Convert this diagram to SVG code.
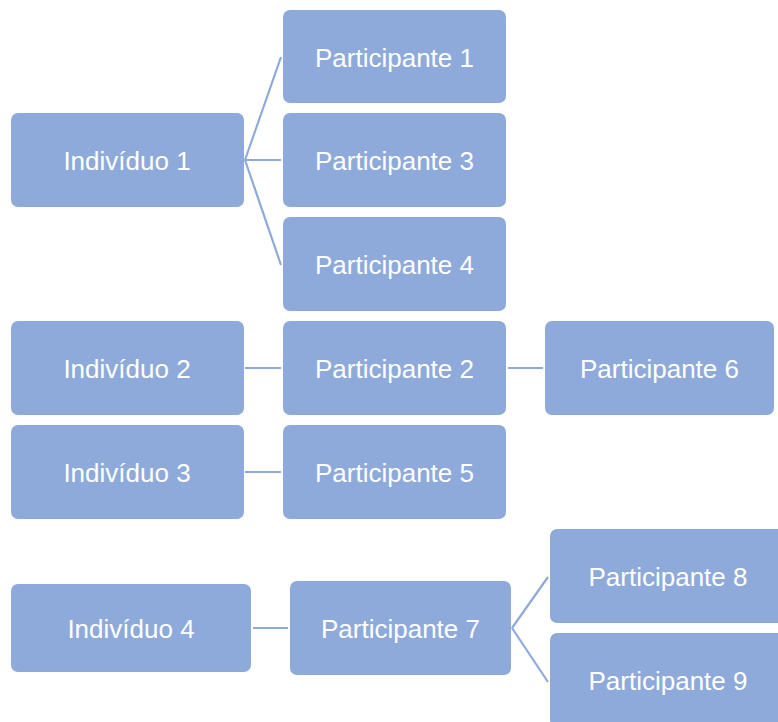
<svg xmlns="http://www.w3.org/2000/svg" width="778" height="722" viewBox="0 0 778 722">
<style>
.box{fill:#8EAADB;}
.lbl{fill:#ffffff;font-family:"Liberation Sans",Arial,sans-serif;font-size:26px;text-anchor:middle;}
.con{stroke:#8EAADB;stroke-width:2.2;fill:none;}
</style>
<rect width="778" height="722" fill="#ffffff"/>
<g id="connectors">
<line class="con" x1="245" y1="160" x2="281" y2="57"/>
<line class="con" x1="245" y1="160" x2="281" y2="160"/>
<line class="con" x1="245" y1="160" x2="281" y2="265"/>
<line class="con" x1="245" y1="368" x2="281" y2="368"/>
<line class="con" x1="508" y1="368" x2="543" y2="368"/>
<line class="con" x1="245" y1="472" x2="281" y2="472"/>
<line class="con" x1="253" y1="628" x2="288" y2="628"/>
<line class="con" x1="512" y1="628" x2="548" y2="577"/>
<line class="con" x1="512" y1="628" x2="548" y2="682"/>
</g>
<g id="ind1"><rect class="box" x="11" y="113" width="233" height="94" rx="7"/><text class="lbl" x="127" y="170">Indivíduo 1</text></g>
<g id="p1"><rect class="box" x="283" y="10" width="223" height="93" rx="7"/><text class="lbl" x="394.5" y="67">Participante 1</text></g>
<g id="p3"><rect class="box" x="283" y="113" width="223" height="94" rx="7"/><text class="lbl" x="394.5" y="170">Participante 3</text></g>
<g id="p4"><rect class="box" x="283" y="217" width="223" height="94" rx="7"/><text class="lbl" x="394.5" y="274">Participante 4</text></g>
<g id="ind2"><rect class="box" x="11" y="321" width="233" height="94" rx="7"/><text class="lbl" x="127" y="378">Indivíduo 2</text></g>
<g id="p2"><rect class="box" x="283" y="321" width="223" height="94" rx="7"/><text class="lbl" x="394.5" y="378">Participante 2</text></g>
<g id="p6"><rect class="box" x="545" y="321" width="229" height="94" rx="7"/><text class="lbl" x="659.5" y="378">Participante 6</text></g>
<g id="ind3"><rect class="box" x="11" y="425" width="233" height="94" rx="7"/><text class="lbl" x="127" y="482">Indivíduo 3</text></g>
<g id="p5"><rect class="box" x="283" y="425" width="223" height="94" rx="7"/><text class="lbl" x="394.5" y="482">Participante 5</text></g>
<g id="ind4"><rect class="box" x="11" y="584" width="240" height="88" rx="7"/><text class="lbl" x="131" y="638">Indivíduo 4</text></g>
<g id="p7"><rect class="box" x="290" y="581" width="221" height="94" rx="7"/><text class="lbl" x="400.5" y="638">Participante 7</text></g>
<g id="p8"><rect class="box" x="550" y="529" width="236" height="94" rx="7"/><text class="lbl" x="668" y="586">Participante 8</text></g>
<g id="p9"><rect class="box" x="550" y="633" width="236" height="94" rx="7"/><text class="lbl" x="668" y="690">Participante 9</text></g>
</svg>
